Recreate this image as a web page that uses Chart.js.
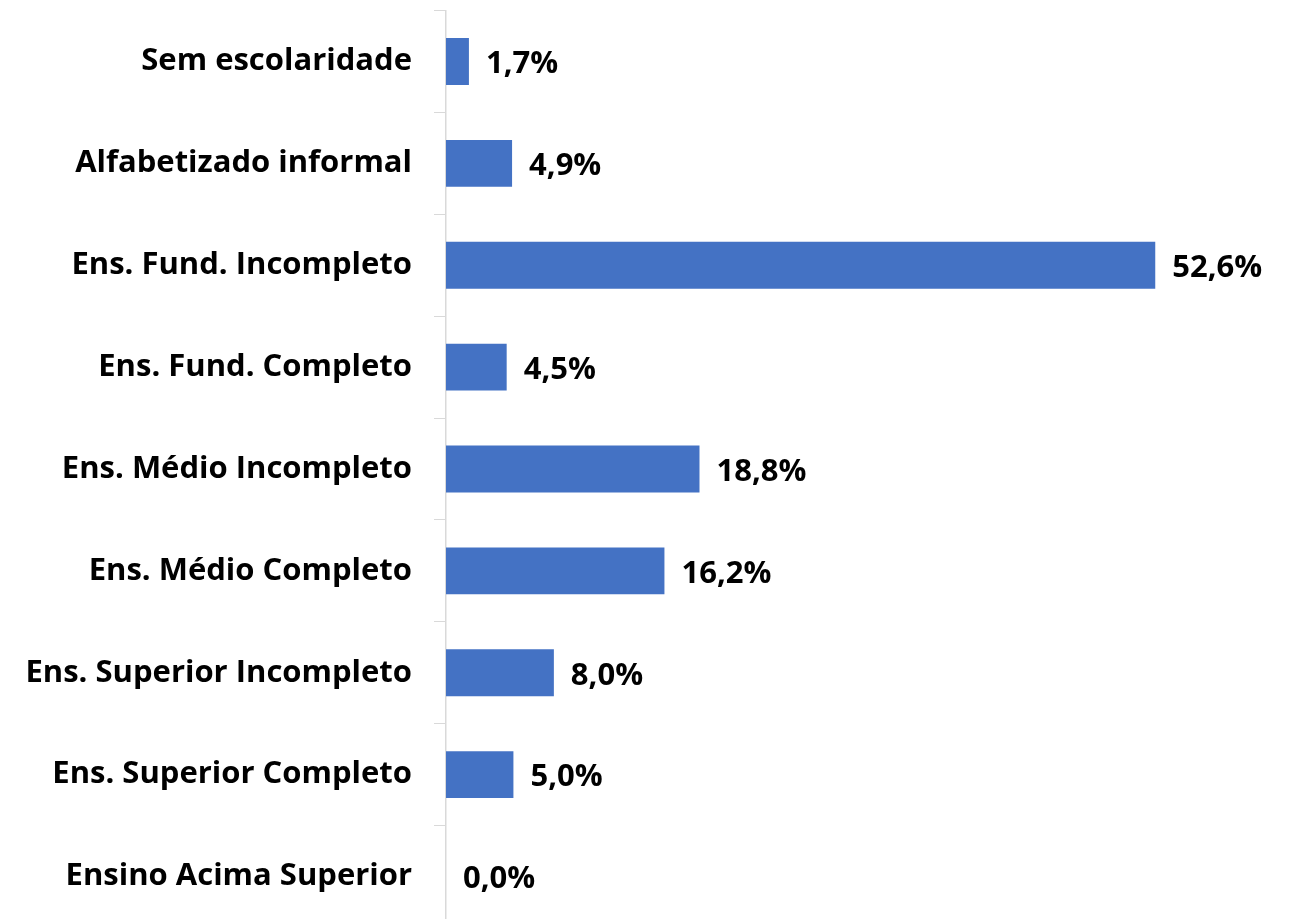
<!DOCTYPE html>
<html lang="pt">

<head>
    <meta charset="UTF-8">
    <title>Escolaridade</title>
    <style>
        html, body { margin: 0; padding: 0; overflow: hidden; background: #fff; }
        #wrap { position: relative; width: 1294px; height: 998px; margin-top: -30px; }
    </style>
</head>

<body>
    <div id="wrap"><canvas id="ctx"></canvas></div>

    <script src="https://cdn.jsdelivr.net/npm/chart.js"></script>
    <script>
        const ctx = document.getElementById('ctx').getContext('2d');

        // Categories (top to bottom)
        let labels = [
            'Sem escolaridade',
            'Alfabetizado informal',
            'Ens. Fund. Incompleto',
            'Ens. Fund. Completo',
            'Ens. Médio Incompleto',
            'Ens. Médio Completo',
            'Ens. Superior Incompleto',
            'Ens. Superior Completo',
            'Ensino Acima Superior'
        ];

        // Percent values
        let dataValues = [1.7, 4.9, 52.6, 4.5, 18.8, 16.2, 8.0, 5.0, 0.0];

        const FONT = '"Open Sans", sans-serif';

        // Draws the value next to each bar, e.g. "52,6%"
        const valueLabels = {
            id: 'valueLabels',
            afterDatasetsDraw(chart) {
                const c = chart.ctx;
                const meta = chart.getDatasetMeta(0);
                c.save();
                c.font = 'bold 31px ' + FONT;
                c.fillStyle = '#000';
                c.textAlign = 'left';
                c.textBaseline = 'middle';
                meta.data.forEach((bar, i) => {
                    const txt = dataValues[i].toFixed(1).replace('.', ',') + '%';
                    c.fillText(txt, bar.x + 17, bar.y + 3);
                });
                c.restore();
            }
        };

        let myChart = new Chart(ctx, {
            type: 'bar',
            data: {
                labels: labels,
                datasets: [{
                    label: 'Escolaridade',
                    data: dataValues,
                    backgroundColor: '#4472C4',
                    borderWidth: 0,
                    barPercentage: 1,
                    categoryPercentage: 0.46
                }]
            },
            options: {
                indexAxis: 'y',
                responsive: true,
                maintainAspectRatio: false,
                animation: false,
                layout: {
                    padding: { top: 10, right: 12, bottom: 10, left: 0 }
                },
                plugins: {
                    legend: { display: false },
                    tooltip: { enabled: false }
                },
                scales: {
                    x: {
                        display: false,
                        min: 0,
                        max: 62
                    },
                    y: {
                        afterFit(scale) { scale.width = 446; },
                        grid: {
                            drawOnChartArea: false,
                            drawTicks: true,
                            tickLength: 12,
                            color: '#d9d9d9',
                            offset: true
                        },
                        border: { display: true, color: '#d9d9d9', width: 1.5 },
                        ticks: {
                            color: '#000',
                            padding: 22,
                            font: { family: FONT, size: 31, weight: 'bold' }
                        }
                    }
                }
            },
            plugins: [valueLabels]
        });
    </script>
</body>

</html>
